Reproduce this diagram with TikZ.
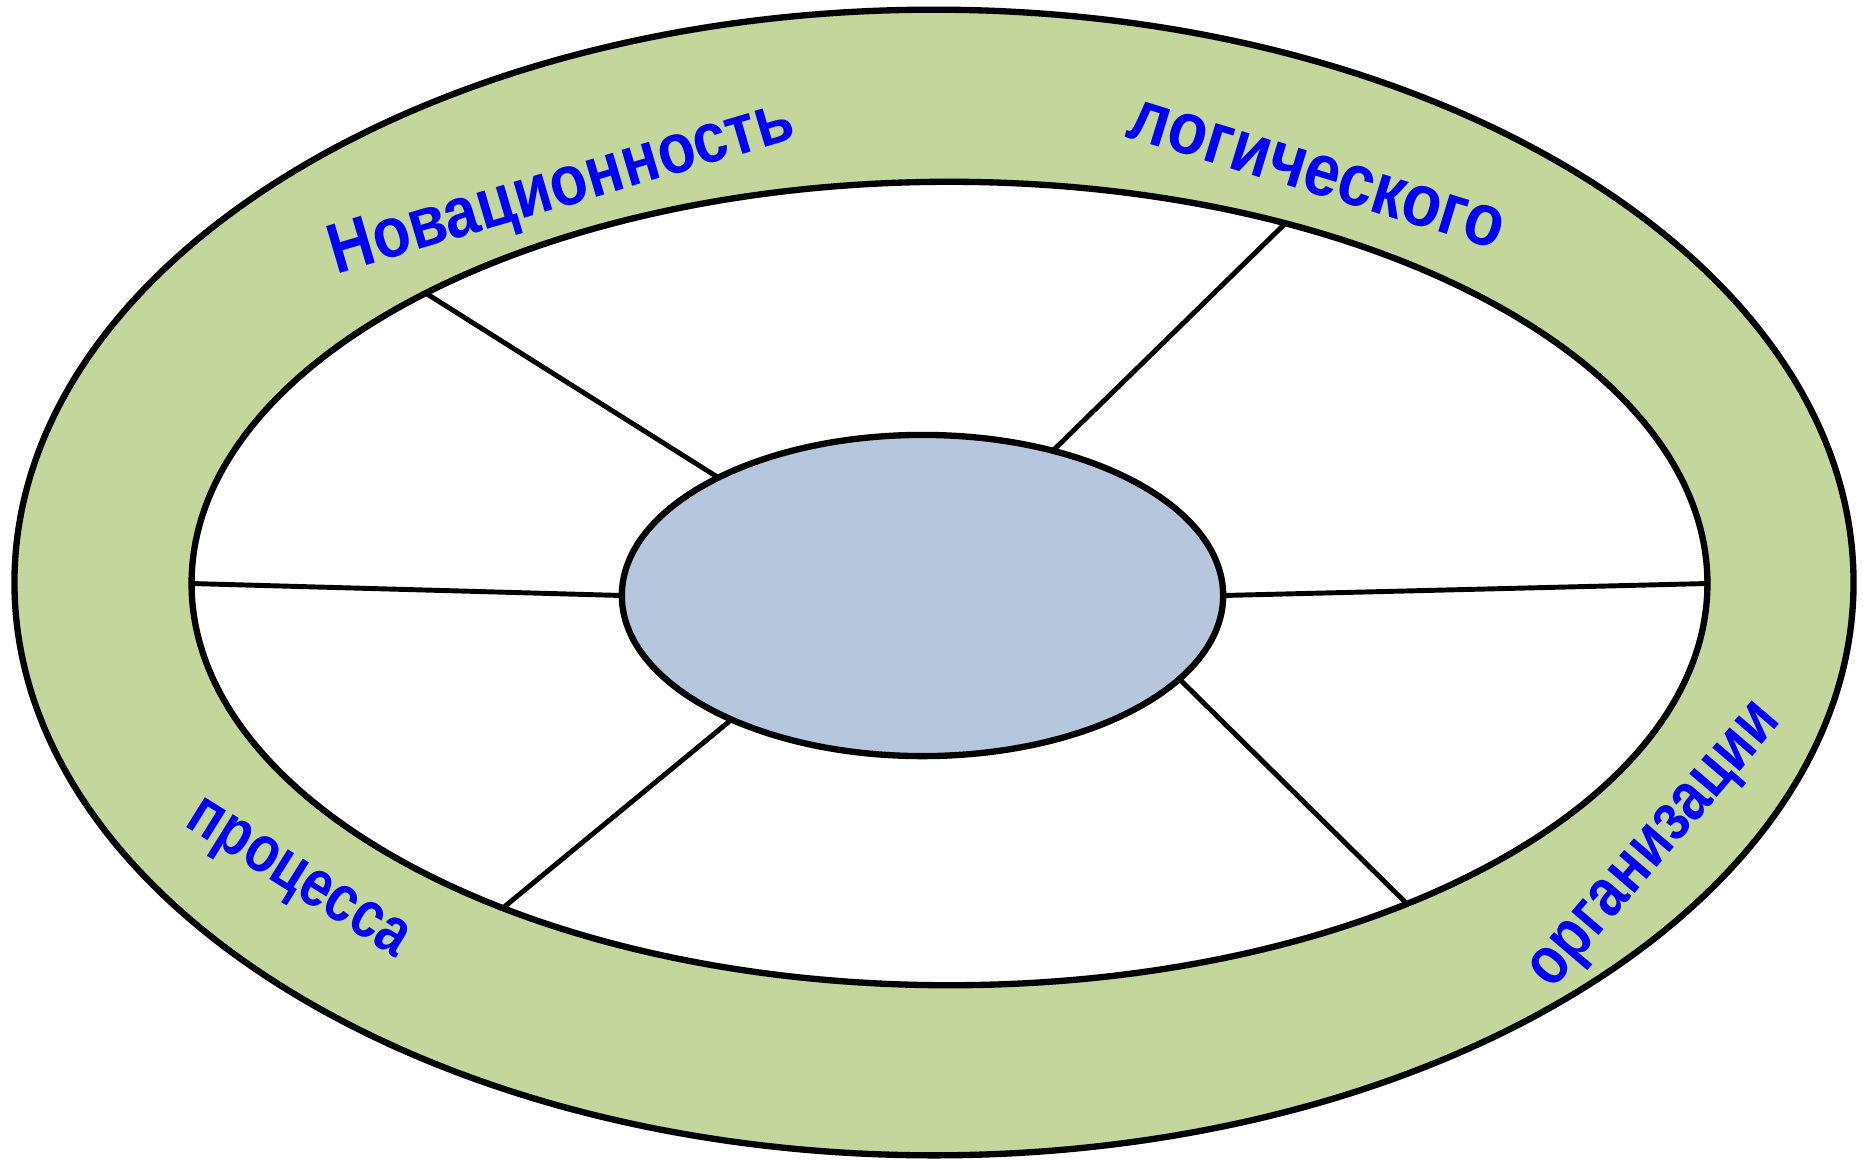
\documentclass[tikz,border=0pt]{standalone}
\usepackage{fontspec}
\setmainfont{Liberation Sans}
\usepackage{xcolor}
\usetikzlibrary{shapes.geometric}

\definecolor{rimgreen}{RGB}{195,214,155}
\definecolor{hubblue}{RGB}{182,198,221}
\definecolor{wordblue}{RGB}{0,0,245}

\begin{document}
\begin{tikzpicture}[
    x=0.01cm, y=-0.01cm,
    ring/.style={draw, ellipse, line width=1.8pt, inner sep=0pt, outer sep=0pt, fill=#1},
    spoke/.style={line width=1.4pt},
    word/.style={rotate=#1, xscale=0.87, text=wordblue, font=\fontsize{21}{24}\selectfont\bfseries, anchor=base}
]
    \useasboundingbox (0,0) rectangle (1863,1160);

    % wheel rim and inner field
    \node[ring=rimgreen, minimum width=18.38cm, minimum height=11.45cm] (rim) at (934,582.5) {};
    \node[ring=white, minimum width=15.15cm, minimum height=8.03cm] (field) at (949.5,583.5) {};
    \node[ring=hubblue, minimum width=6.01cm, minimum height=3.21cm] (hub) at (922.5,595.5) {};

    % spokes
    \draw[spoke] (field.151) -- (hub.150);
    \draw[spoke] (field.47.5) -- (hub.48.4);
    \draw[spoke] (field.180) -- (hub.180);
    \draw[spoke] (field.0) -- (hub.0);
    \draw[spoke] (field.216) -- (hub.213);
    \draw[spoke] (field.325) -- (hub.342);

    % words on the rim
    \node[word=16.5, scale=0.96] (novel) at (567,206) {Новационность};
    \node[word=-17] (logic) at (1311,193) {логического};
    \node[word=-32, scale=0.9, xscale=0.93] (proc) at (290,892) {процесса};
    \node[word=49.5, scale=0.92, xscale=0.95] (org) at (1667,856) {организации};
\end{tikzpicture}
\end{document}
